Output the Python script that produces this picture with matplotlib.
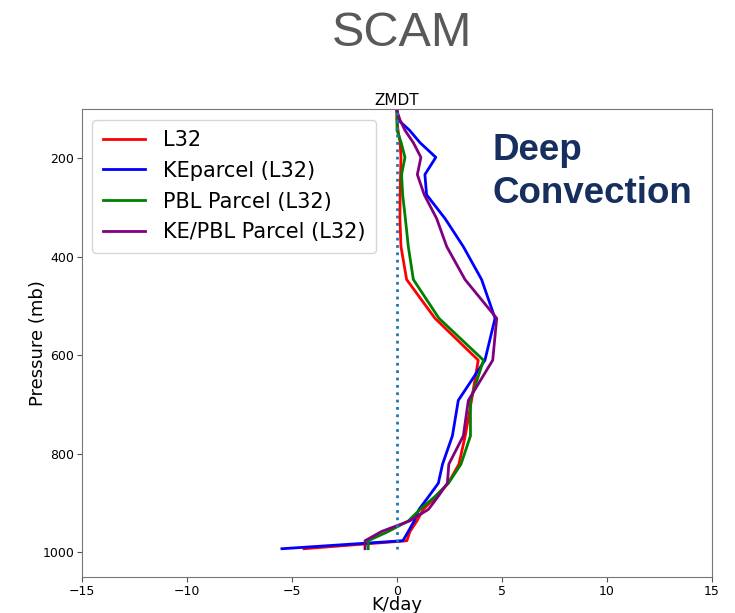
import numpy as np
import matplotlib
matplotlib.use('Agg')
from matplotlib import pyplot as plt

# Model mid-level pressures (mb), L32 column (upper levels are clipped by ylim)
lev = [61.52, 73.75, 87.82, 103.32, 121.55, 142.99, 168.23, 197.91, 232.83,
       273.91, 322.24, 379.10, 445.99, 524.69, 609.78, 691.39, 763.40,
       820.86, 859.53, 887.02, 912.64, 936.20, 957.49, 976.33, 992.56]

# ZMDT profiles (K/day)
zmdt_l32 = [0.0, 0.0, 0.0, 0.0, 0.0, 0.05, 0.15, 0.19, 0.17, 0.15, 0.14, 0.19,
            0.46, 1.81, 3.87, 3.55, 3.25, 2.95, 2.44, 1.85, 1.25, 0.95, 0.62,
            0.47, -4.43]
zmdt_ke = [0.0, 0.0, 0.0, 0.0, 0.05, 0.6, 1.1, 1.85, 1.33, 1.41, 2.29, 3.16,
           4.03, 4.67, 4.19, 2.92, 2.64, 2.17, 1.97, 1.5, 1.05, 0.82, 0.54,
           0.28, -5.48]
zmdt_pbl = [0.0, 0.0, 0.0, 0.0, 0.0, 0.0, 0.2, 0.38, 0.22, 0.27, 0.4, 0.54,
            0.78, 2.0, 4.12, 3.5, 3.5, 3.05, 2.45, 1.8, 1.1, 0.54, -0.41,
            -1.37, -1.37]
zmdt_kepbl = [0.0, 0.0, 0.0, 0.0, 0.14, 0.38, 0.78, 1.14, 0.97, 1.3, 1.89,
              2.37, 3.24, 4.75, 4.56, 3.4, 3.16, 2.47, 2.4, 1.95, 1.5, 0.6,
              -0.73, -1.52, -1.52]

labels = ['L32', 'KEparcel (L32)', 'PBL Parcel (L32)', 'KE/PBL Parcel (L32)']
colors = ['red', 'blue', 'green', 'purple']

fig = plt.figure(figsize=(7.35, 6.13), dpi=100)
ax = fig.add_axes([0.1116, 0.0587, 0.857, 0.7633])

for prof, lab, col in zip([zmdt_l32, zmdt_ke, zmdt_pbl, zmdt_kepbl], labels, colors):
    ax.plot(prof, lev, color=col, lw=2, label=lab)
ax.plot(np.zeros(len(lev)), lev, ':', color='tab:blue', lw=2)

ax.set_xlim(-15, 15)
ax.set_ylim(1050, 100)
ax.set_yticks([200, 400, 600, 800, 1000])
ax.tick_params(labelsize=9, color='#555555', pad=2)
for sp in ax.spines.values():
    sp.set_color('#777777')
ax.set_title('ZMDT', fontsize=11, pad=3)
ax.set_xlabel('K/day', fontsize=13, labelpad=-1)
ax.set_ylabel('Pressure (mb)', fontsize=13, labelpad=-3)
ax.legend(loc='upper left', fontsize=15, handlelength=2.0,
          handletextpad=0.9, labelspacing=0.52, borderpad=0.5)

ax.text(0.651, 0.95, 'Deep\nConvection', transform=ax.transAxes,
        fontsize=26.5, fontweight='bold', color='#172f5f',
        family='Liberation Sans', linespacing=1.3, va='top')

fig.text(0.547, 0.945, 'SCAM', ha='center', va='center', fontsize=35,
         color='#595959', family='Liberation Sans')

plt.savefig('out.png', dpi=100)
